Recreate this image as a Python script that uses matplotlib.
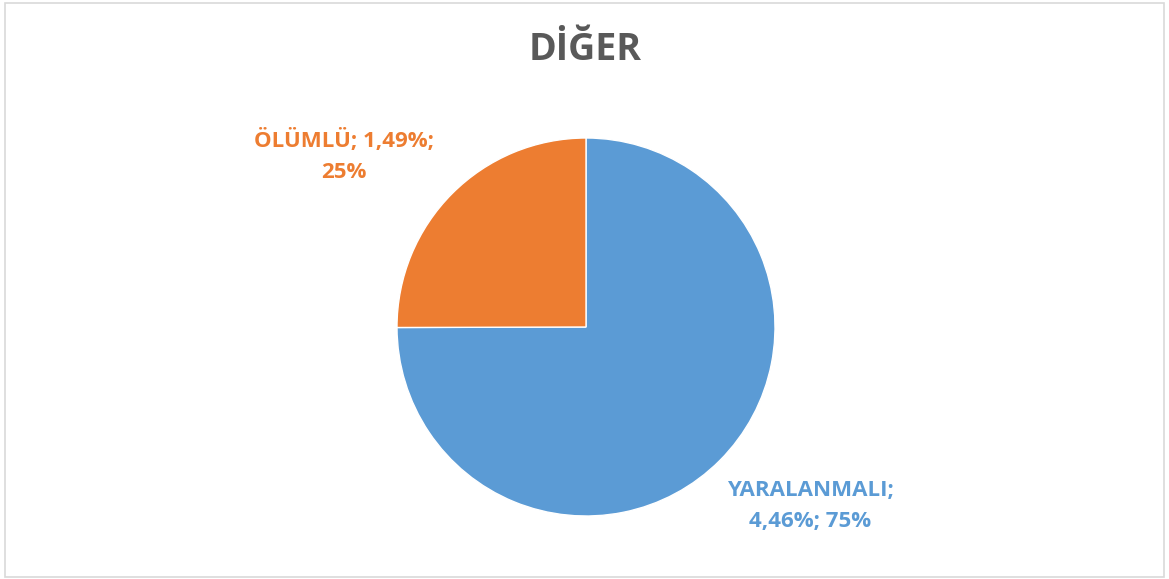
import matplotlib.pyplot as plt
from matplotlib.patches import Rectangle

categories = ['YARALANMALI', 'ÖLÜMLÜ']
rates = [4.46, 1.49]
colors = ['#5B9BD5', '#ED7D31']
title = 'DİĞER'

W, H = 1169, 579
fig = plt.figure(figsize=(W / 100, H / 100), dpi=100)
fig.patch.set_facecolor('white')

# light frame round the chart area
fig.add_artist(Rectangle((5 / W, 2 / H), 1159 / W, 574 / H, transform=fig.transFigure,
                         fill=False, edgecolor='#D9D9D9', linewidth=1.2))

# pie centred at (586, 327) px with radius 189 px
cx, cy, r = 586, 327, 189
ax = fig.add_axes([(cx - r) / W, (H - cy - r) / H, 2 * r / W, 2 * r / H])
ax.pie(rates, colors=colors, startangle=90, counterclock=False,
       wedgeprops=dict(edgecolor='white', linewidth=1))
ax.set_xlim(-1, 1)
ax.set_ylim(-1, 1)
ax.set_aspect('equal')
ax.axis('off')

fig.text(585 / W, 1 - 50 / H, title, ha='center', va='center', fontsize=27,
         fontweight='bold', color='#595959', family='Open Sans')

total = sum(rates)
pct = [round(v / total * 100) for v in rates]
fmt = lambda v: ('%.2f' % v).replace('.', ',')

lab_blue = '%s;\n%s%%; %d%%' % (categories[0], fmt(rates[0]), pct[0])
lab_orange = '%s; %s%%;\n%d%%' % (categories[1], fmt(rates[1]), pct[1])
fig.text(810 / W, 1 - 506 / H, lab_blue, ha='center', va='center', fontsize=16,
         fontweight='bold', color=colors[0], family='Open Sans', linespacing=1.6)
fig.text(344 / W, 1 - 156 / H, lab_orange, ha='center', va='center', fontsize=16,
         fontweight='bold', color=colors[1], family='Open Sans', linespacing=1.6)

fig.savefig('out.png', dpi=100)
